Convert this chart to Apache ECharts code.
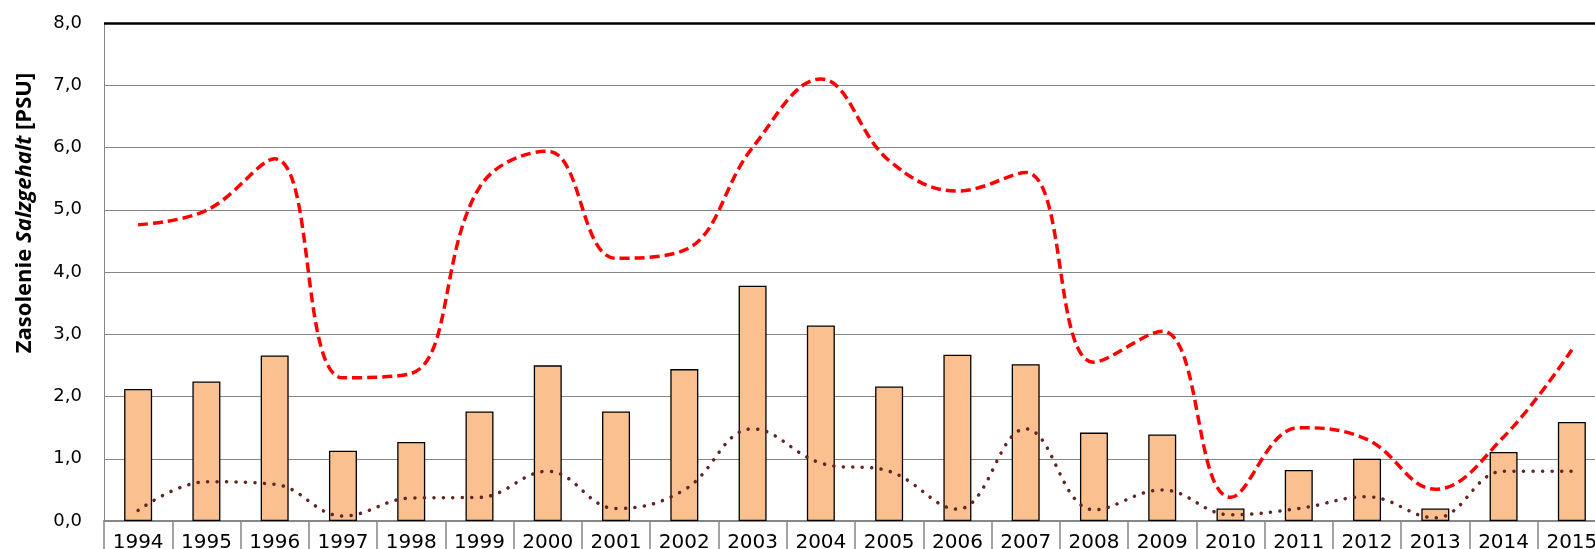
<!DOCTYPE html>
<html>
<head>
<meta charset="utf-8">
<script src="https://cdn.jsdelivr.net/npm/echarts@6/dist/echarts.min.js"></script>
<style>
  html, body { margin: 0; padding: 0; background: #fff; }
  #chart { width: 1595px; height: 549px; }
</style>
</head>
<body>
<div id="chart"></div>
<script>
// Jahre / lata
var years = ['1994', '1995', '1996', '1997', '1998', '1999', '2000', '2001', '2002', '2003', '2004',
             '2005', '2006', '2007', '2008', '2009', '2010', '2011', '2012', '2013', '2014', '2015'];

// Mittelwert (Säulen)
var meanValues = [2.12, 2.24, 2.66, 1.13, 1.27, 1.76, 2.50, 1.76, 2.44, 3.78, 3.14,
                  2.16, 2.67, 2.52, 1.42, 1.39, 0.20, 0.82, 1.00, 0.20, 1.11, 1.59];

// Maximum (rote gestrichelte Linie)
var maxValues = [4.76, 4.99, 5.82, 2.30, 2.37, 5.36, 5.94, 4.22, 4.35, 6.00, 7.10,
                 5.79, 5.30, 5.60, 2.55, 3.05, 0.38, 1.50, 1.31, 0.51, 1.35, 2.75];

// Minimum (gepunktete Linie)
var minValues = [0.17, 0.63, 0.59, 0.08, 0.37, 0.38, 0.80, 0.20, 0.50, 1.48, 0.93,
                 0.80, 0.19, 1.48, 0.18, 0.50, 0.10, 0.20, 0.39, 0.05, 0.80, 0.80];

// Achsenwerte
var yMin = 0, yMax = 8, yStep = 1;

var chart = echarts.init(document.getElementById('chart'));

chart.setOption({
  animation: false,
  backgroundColor: '#fff',
  textStyle: { fontFamily: 'DejaVu Sans' },
  grid: { left: 104, right: -11, top: 23, bottom: 28, containLabel: false, outerBoundsMode: 'none' },
  graphic: [{
    type: 'text',
    x: 25,
    y: 213,
    rotation: Math.PI / 2,
    style: {
      text: '{b|Zasolenie }{i|Salzgehalt}{b| [PSU]}',
      textAlign: 'center',
      textVerticalAlign: 'middle',
      rich: {
        b: { fontFamily: 'Open Sans', fontWeight: 'bold', fontSize: 22, fill: '#000' },
        i: { fontFamily: 'Open Sans', fontWeight: 'bold', fontStyle: 'italic', fontSize: 22, fill: '#000' }
      }
    }
  }],
  xAxis: {
    type: 'category',
    data: years,
    axisLine: { lineStyle: { color: '#868686', width: 2 } },
    axisTick: { show: true, length: 30, lineStyle: { color: '#868686', width: 1.5 } },
    axisLabel: { color: '#000', fontSize: 20, margin: 12, fontFamily: 'DejaVu Sans' }
  },
  yAxis: {
    type: 'value',
    min: yMin,
    max: yMax,
    interval: yStep,
    axisLine: { show: true, lineStyle: { color: '#868686', width: 1 } },
    axisTick: { show: false },
    axisLabel: {
      color: '#000',
      fontSize: 18,
      margin: 22,
      fontFamily: 'DejaVu Sans',
      formatter: function (v) { return v.toFixed(1).replace('.', ','); }
    },
    splitLine: { lineStyle: { color: '#868686', width: 1 } }
  },
  series: [
    {
      name: 'Mittelwert',
      type: 'bar',
      data: meanValues,
      barWidth: '41%',
      itemStyle: { color: '#FAC090', borderColor: '#000', borderWidth: 1.3 },
      markLine: {
        silent: true,
        symbol: 'none',
        label: { show: false },
        lineStyle: { color: '#000', width: 2.5, type: 'solid' },
        data: [{ yAxis: yMax }]
      },
      z: 2
    },
    {
      name: 'Minimum',
      type: 'line',
      data: minValues,
      smooth: 0.4,
      symbol: 'none',
      lineStyle: { color: '#632523', width: 3.5, type: [0.1, 9.4], cap: 'round' },
      z: 3
    },
    {
      name: 'Maximum',
      type: 'line',
      data: maxValues,
      smooth: 0.4,
      symbol: 'none',
      lineStyle: { color: '#FF0000', width: 3.5, type: [10, 5] },
      z: 4
    }
  ]
});
</script>
</body>
</html>
